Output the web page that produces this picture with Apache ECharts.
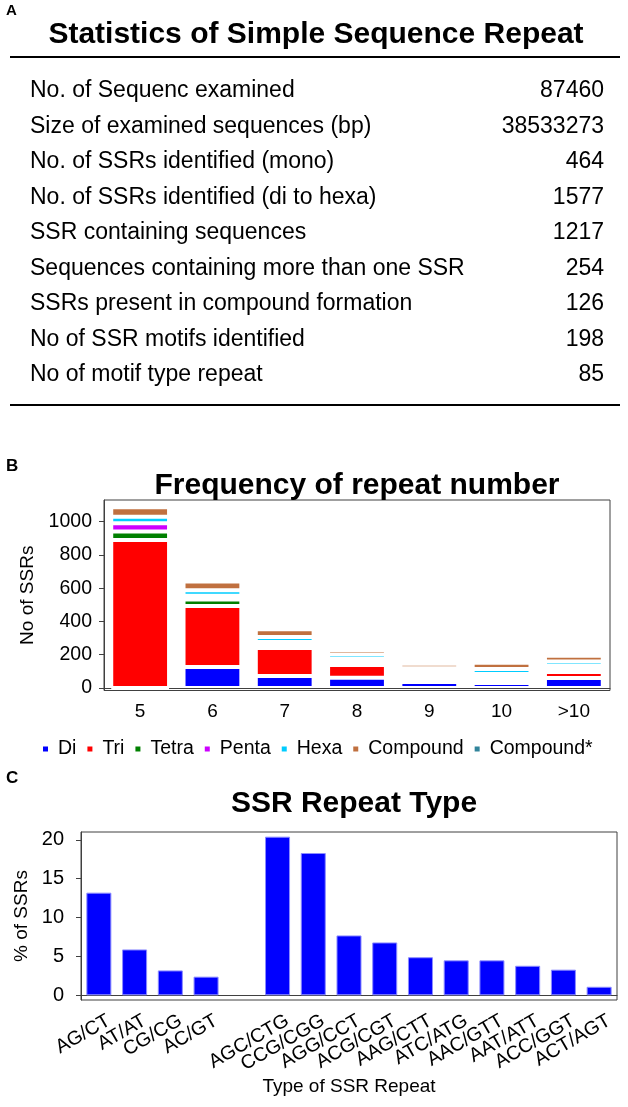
<!DOCTYPE html>
<html><head><meta charset="utf-8">
<script src="https://cdn.jsdelivr.net/npm/echarts@6/dist/echarts.min.js"></script>
<style>html,body{margin:0;padding:0;background:#fff}#c{width:628px;height:1107px}</style>
</head><body><div id="c"></div>
<script>
// Panel A table
const statLabels = [
  'No. of Sequenc examined',
  'Size of examined sequences (bp)',
  'No. of SSRs identified (mono)',
  'No. of SSRs identified (di to hexa)',
  'SSR containing sequences',
  'Sequences containing more than one SSR',
  'SSRs present in compound formation',
  'No of SSR motifs identified',
  'No of motif type repeat'
];
const statValues = ['87460', '38533273', '464', '1577', '1217', '254', '126', '198', '85'];

// Panel B: frequency of repeat number (stacked)
const repeatCats = ['5', '6', '7', '8', '9', '10', '>10'];
const diVals       = [0, 126, 72, 61, 36, 30, 60];
const triVals      = [889, 367, 168, 77, 19, 20, 36];
const tetraVals    = [52, 39, 12, 19, 25, 16, 12];
const pentaVals    = [49, 22, 24, 18, 16, 18, 24];
const hexaVals     = [39, 34, 30, 27, 22, 30, 28];
const compoundVals = [57, 52, 47, 26, 28, 38, 34];
const compoundStarVals = [20, 0, 0, 0, 0, 22, 0];
const repeatTicks = [0, 200, 400, 600, 800, 1000];

// Panel C: SSR repeat type
const typeCats = ['AG/CT', 'AT/AT', 'CG/CG', 'AC/GT', '', 'AGC/CTG', 'CCG/CGG', 'AGG/CCT', 'ACG/CGT', 'AAG/CTT', 'ATC/ATG', 'AAC/GTT', 'AAT/ATT', 'ACC/GGT', 'ACT/AGT'];
const typeVals = [13.2, 5.9, 3.2, 2.4, null, 20.4, 18.3, 7.7, 6.8, 4.9, 4.5, 4.5, 3.8, 3.3, 1.1];
const typeTicks = [0, 5, 10, 15, 20];

const FONT = 'Liberation Sans, Arial, sans-serif';
const chart = echarts.init(document.getElementById('c'), null, {renderer: 'canvas'});

const graphics = [];
graphics.push({type: 'text', left: 6, top: 3, style: {text: 'A', font: 'bold 15px ' + FONT, fill: '#000'}});
graphics.push({type: 'text', x: 316, y: 35, style: {text: 'Statistics of Simple Sequence Repeat', font: 'bold 30px ' + FONT, fill: '#000', textAlign: 'center', textVerticalAlign: 'middle'}});
graphics.push({type: 'line', shape: {x1: 10, y1: 57, x2: 620, y2: 57}, style: {stroke: '#000', lineWidth: 2}});
graphics.push({type: 'line', shape: {x1: 10, y1: 405, x2: 620, y2: 405}, style: {stroke: '#000', lineWidth: 2}});
statLabels.forEach(function (lab, i) {
  const y = 91 + i * 35.5;
  graphics.push({type: 'text', x: 30, y: y, style: {text: lab, font: '23px ' + FONT, fill: '#000', textAlign: 'left', textVerticalAlign: 'middle'}});
  graphics.push({type: 'text', x: 604, y: y, style: {text: statValues[i], font: '23px ' + FONT, fill: '#000', textAlign: 'right', textVerticalAlign: 'middle'}});
});
graphics.push({type: 'text', left: 6, top: 458, style: {text: 'B', font: 'bold 17px ' + FONT, fill: '#000'}});
graphics.push({type: 'text', left: 6, top: 770, style: {text: 'C', font: 'bold 17px ' + FONT, fill: '#000'}});

const seriesDefs = [
  ['Di', diVals, '#0000FF'],
  ['Tri', triVals, '#FF0000'],
  ['Tetra', tetraVals, '#008000'],
  ['Penta', pentaVals, '#CC00FF'],
  ['Hexa', hexaVals, '#00CCFF'],
  ['Compound', compoundVals, '#C0703F'],
  ['Compound*', compoundStarVals, '#31849B']
];

const series = seriesDefs.map(function (d) {
  return {
    name: d[0], type: 'bar', stack: 'rep', xAxisIndex: 0, yAxisIndex: 0,
    data: d[1], barWidth: '80%',
    itemStyle: {color: d[2], borderColor: '#fff', borderWidth: 2},
    emphasis: {disabled: true}
  };
});
series.push({
  name: 'type', type: 'bar', xAxisIndex: 1, yAxisIndex: 1,
  data: typeVals, barWidth: '70%',
  itemStyle: {color: '#0000FF', borderColor: '#8C8CFF', borderWidth: 1},
  emphasis: {disabled: true}
});

function labelFor(ticks) {
  return function (v) {
    const r = Math.round(v);
    return (Math.abs(v - r) < 1e-6 && ticks.indexOf(r) >= 0) ? String(r) : '';
  };
}

chart.setOption({
  animation: false,
  backgroundColor: '#fff',
  textStyle: {fontFamily: FONT},
  title: [
    {text: 'Frequency of repeat number', left: 352, top: 466, textAlign: 'center',
     textStyle: {fontFamily: FONT, fontWeight: 'bold', fontSize: 30, color: '#000'}},
    {text: 'SSR Repeat Type', left: 349, top: 784, textAlign: 'center',
     textStyle: {fontFamily: FONT, fontWeight: 'bold', fontSize: 30, color: '#000'}}
  ],
  legend: {
    data: seriesDefs.map(function (d) { return d[0]; }),
    left: 36, top: 734, itemWidth: 7, itemHeight: 7, itemGap: 9, icon: 'rect',
    textStyle: {fontFamily: FONT, fontSize: 19.5, color: '#000', padding: [0, 0, 0, 4]},
    selectedMode: false
  },
  grid: [
    {left: 104, right: 18, top: 500, bottom: 416.5, show: true, borderColor: '#404040', borderWidth: 1},
    {left: 81, right: 11, top: 832, bottom: 107, show: true, borderColor: '#404040', borderWidth: 1}
  ],
  xAxis: [
    {type: 'category', gridIndex: 0, data: repeatCats,
     axisLine: {lineStyle: {color: '#404040'}}, axisTick: {show: false},
     axisLabel: {fontFamily: FONT, fontSize: 19, color: '#000', margin: 12}},
    {type: 'category', gridIndex: 1, data: typeCats,
     axisLine: {lineStyle: {color: '#404040'}}, axisTick: {show: false},
     axisLabel: {fontFamily: FONT, fontSize: 19.5, color: '#000', rotate: 30, interval: 0, margin: 2,
       verticalAlign: 'top', padding: [10, 0, 0, 0]},
     name: 'Type of SSR Repeat', nameLocation: 'middle', nameGap: 73,
     nameTextStyle: {fontFamily: FONT, fontSize: 19, color: '#000'}}
  ],
  yAxis: [
    {type: 'value', gridIndex: 0, min: -15, max: 1130,
     splitLine: {show: false},
     axisLine: {show: true, lineStyle: {color: '#404040'}},
     axisTick: {show: true, length: 5, lineStyle: {color: '#404040'}, customValues: repeatTicks},
     axisLabel: {fontFamily: FONT, fontSize: 19.5, color: '#000', margin: 12, customValues: repeatTicks, formatter: labelFor(repeatTicks)},
     name: 'No of SSRs', nameLocation: 'middle', nameGap: 60, nameRotate: 90,
     nameTextStyle: {fontFamily: FONT, fontSize: 19, color: '#000'}},
    {type: 'value', gridIndex: 1, min: -0.6, max: 21,
     splitLine: {show: false},
     axisLine: {show: true, lineStyle: {color: '#404040'}},
     axisTick: {show: true, length: 5, lineStyle: {color: '#404040'}, customValues: typeTicks},
     axisLabel: {fontFamily: FONT, fontSize: 20, color: '#000', margin: 17, customValues: typeTicks, formatter: labelFor(typeTicks)},
     name: '% of SSRs', nameLocation: 'middle', nameGap: 46, nameRotate: 90,
     nameTextStyle: {fontFamily: FONT, fontSize: 19, color: '#000'}}
  ],
  graphic: graphics,
  series: series
});
</script></body></html>
